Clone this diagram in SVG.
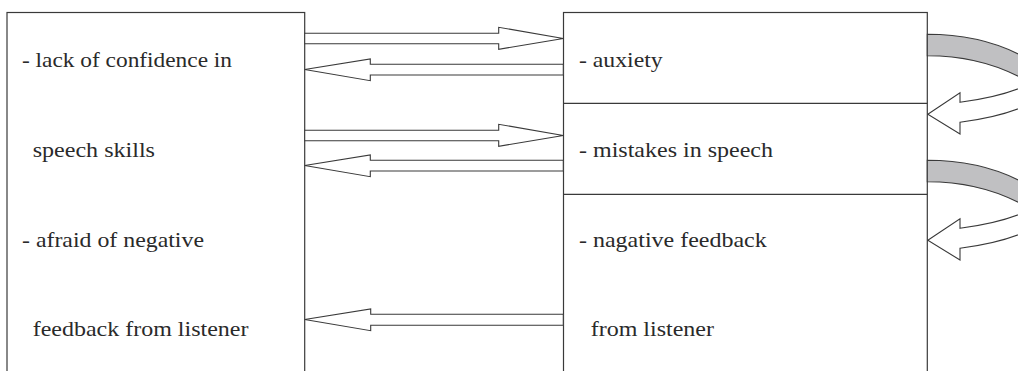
<svg xmlns="http://www.w3.org/2000/svg" xmlns:xlink="http://www.w3.org/1999/xlink" width="1018" height="371" viewBox="0 0 1018 371">
<style>
.box{fill:#fff;stroke:#3a3a3a;stroke-width:1.2}
.div{stroke:#3a3a3a;stroke-width:1.2;fill:none}
.arr{fill:#fff;stroke:#3a3a3a;stroke-width:1.1;stroke-linejoin:miter}
.band{fill:#c0c0c2;stroke:#3a3a3a;stroke-width:1.1}
text{font-family:'Liberation Serif','Times New Roman',serif;font-size:21.5px;fill:#2a2a2a}
</style>
<defs>
<g id="loop">
<path class="band" d="M927.3,34.3 C960,34.3 995,41 1025,57.5 L1025,80 C997,64 962,55.7 927.3,55.7 Z"/>
<path class="arr" d="M1025,86 C1005,95 985,99 960,102.3 L960,92.7 L927.8,114.3 L960,134 L960,122.3 C985,119 1005,115 1025,106"/>
</g>
</defs>
<rect width="1018" height="371" fill="#fff"/>
<g id="node-causes">
<rect class="box" x="7" y="12.5" width="297.7" height="380"/>
<text x="22" y="67.3" textLength="210" lengthAdjust="spacingAndGlyphs">- lack of confidence in</text>
<text x="32.7" y="157" textLength="122.3" lengthAdjust="spacingAndGlyphs">speech skills</text>
<text x="22" y="247" textLength="182" lengthAdjust="spacingAndGlyphs">- afraid of negative</text>
<text x="32.7" y="335.5" textLength="215.7" lengthAdjust="spacingAndGlyphs">feedback from listener</text>
</g>
<g id="node-effects">
<rect class="box" x="563.5" y="12.5" width="363.8" height="380"/>
<line class="div" x1="563.5" y1="103.3" x2="927.3" y2="103.3"/>
<line class="div" x1="563.5" y1="194.3" x2="927.3" y2="194.3"/>
<text x="579" y="67.3" textLength="83.7" lengthAdjust="spacingAndGlyphs">- auxiety</text>
<text x="579" y="157" textLength="194" lengthAdjust="spacingAndGlyphs">- mistakes in speech</text>
<text x="579" y="247" textLength="187.7" lengthAdjust="spacingAndGlyphs">- nagative feedback</text>
<text x="590.7" y="336" textLength="123.3" lengthAdjust="spacingAndGlyphs">from listener</text>
</g>
<g id="connectors">
<polygon class="arr" points="304.7,33.3 498.7,33.3 498.7,27.3 563.3,38.5 498.7,49.3 498.7,43.7 304.7,43.7"/>
<polygon class="arr" points="563.3,64.3 370.3,64.3 370.3,59 304.7,69.5 370.3,80.7 370.3,75 563.3,75"/>
<polygon class="arr" points="304.7,130.3 498.7,130.3 498.7,124.3 563.3,135.5 498.7,146.3 498.7,140.7 304.7,140.7"/>
<polygon class="arr" points="563.3,160.3 370.3,160.3 370.3,155 304.7,165.5 370.3,176.7 370.3,171 563.3,171"/>
<polygon class="arr" points="563.3,314.3 370.7,314.3 370.7,309 304.7,319.5 370.7,330.7 370.7,325.3 563.3,325.3"/>
<use xlink:href="#loop"/>
<use xlink:href="#loop" transform="translate(0,126)"/>
</g>
</svg>
